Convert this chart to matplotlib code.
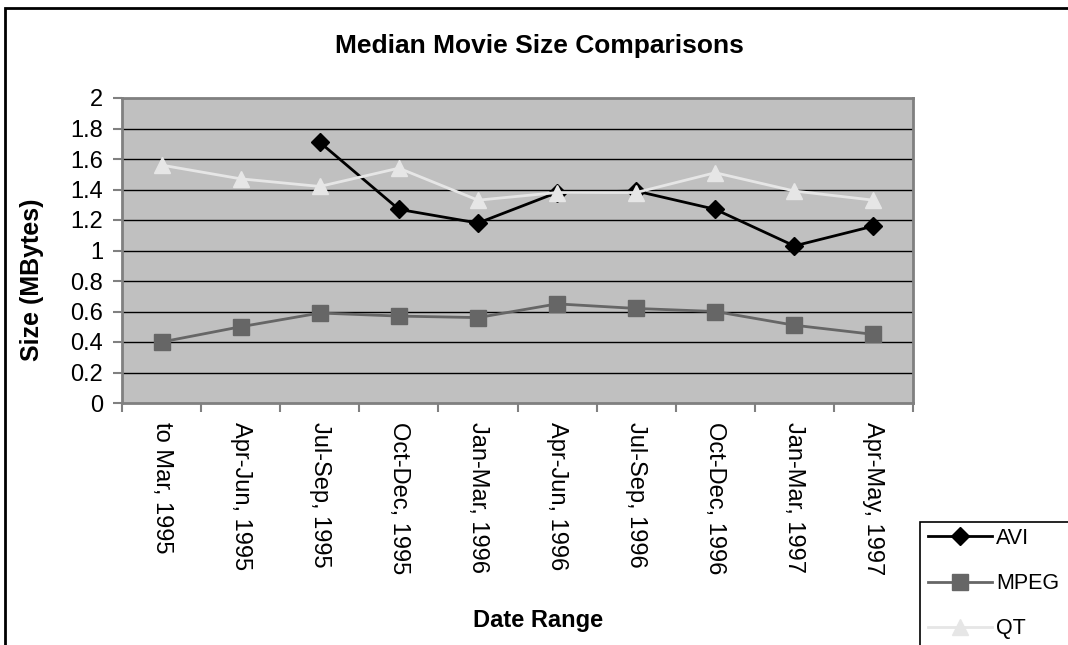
import numpy as np
import matplotlib
matplotlib.use("Agg")
import matplotlib.pyplot as plt
from matplotlib.patches import Rectangle
from matplotlib import font_manager

plt.rcParams['font.family'] = ['Liberation Sans', 'DejaVu Sans']

categories = ["to Mar, 1995", "Apr-Jun, 1995", "Jul-Sep, 1995", "Oct-Dec, 1995",
              "Jan-Mar, 1996", "Apr-Jun, 1996", "Jul-Sep, 1996", "Oct-Dec, 1996",
              "Jan-Mar, 1997", "Apr-May, 1997"]
avi = [np.nan, np.nan, 1.71, 1.27, 1.18, 1.38, 1.39, 1.27, 1.03, 1.16]
mpeg = [0.40, 0.50, 0.59, 0.57, 0.56, 0.65, 0.62, 0.60, 0.51, 0.45]
qt = [1.56, 1.47, 1.42, 1.54, 1.33, 1.38, 1.38, 1.51, 1.39, 1.33]
y_ticks = [0, 0.2, 0.4, 0.6, 0.8, 1.0, 1.2, 1.4, 1.6, 1.8, 2.0]
y_tick_labels = ["0", "0.2", "0.4", "0.6", "0.8", "1", "1.2", "1.4", "1.6", "1.8", "2"]

W, H = 1068, 645
fig = plt.figure(figsize=(W / 100, H / 100), dpi=100)

def fx(px):
    return px / W

def fy(py):
    return 1 - py / H

ax = fig.add_axes([fx(122), fy(403), fx(913) - fx(122), fy(98) - fy(403)])
ax.set_facecolor('#c0c0c0')

x = np.arange(len(categories))
ax.plot(x, avi, color='black', lw=2, marker='D', ms=9, mfc='black', mec='black', label='AVI', zorder=3)
ax.plot(x, mpeg, color='#666666', lw=2, marker='s', ms=11, mfc='#666666', mec='#666666', label='MPEG', zorder=4)
ax.plot(x, qt, color='#e6e6e6', lw=2, marker='^', ms=12, mfc='#e6e6e6', mec='#e6e6e6', label='QT', zorder=5)

ax.set_xlim(-0.5, len(categories) - 0.5)
ax.set_ylim(0, 2)
ax.set_yticks(y_ticks)
ax.set_yticklabels(y_tick_labels, fontsize=17)
for yv in y_ticks[1:-1]:
    ax.axhline(yv, color='black', lw=1, zorder=1)

ax.set_xticks(x)
ax.set_xticklabels(categories, rotation=270, fontsize=17, va='top', ha='center')
ax.set_xticks(np.arange(-0.5, len(categories), 1.0), minor=True)
ax.tick_params(axis='x', which='major', length=0, pad=14)
ax.tick_params(axis='x', which='minor', length=6.5, width=1.5, color='#808080')
ax.tick_params(axis='y', which='major', length=6.5, width=1.5, color='#808080', pad=7)

for s in ax.spines.values():
    s.set_color('#808080')
    s.set_linewidth(2)

fig.text(fx(539), fy(46), "Median Movie Size Comparisons", ha='center', va='center',
         fontsize=19, fontweight='bold')
fig.text(fx(32), fy(280), "Size (MBytes)", ha='center', va='center', rotation=90,
         fontsize=18, fontweight='bold')
fig.text(fx(538), fy(620), "Date Range", ha='center', va='center',
         fontsize=17, fontweight='bold')

# outer chart border (extends past right and bottom edges)
fig.patches.append(Rectangle((fx(5), fy(1200)), fx(2000), fy(8) - fy(1200), transform=fig.transFigure,
                             fill=False, ec='black', lw=2, clip_on=False))
# legend box
fig.patches.append(Rectangle((fx(920), fy(800)), fx(400), fy(522) - fy(800), transform=fig.transFigure,
                             fill=False, ec='black', lw=1.2, clip_on=False))

leg_size = 15.5
handles, labels = ax.get_legend_handles_labels()
leg = fig.legend(handles, labels, loc='upper left', bbox_to_anchor=(fx(928), fy(528)),
                 bbox_transform=fig.transFigure, frameon=False,
                 prop=font_manager.FontProperties(family=['Liberation Sans'], size=leg_size),
                 handlelength=64 / (leg_size * 1.389), handletextpad=0.2,
                 labelspacing=1.12,
                 borderpad=0, borderaxespad=0, markerscale=1.0)

fig.savefig("out.png", dpi=100)
